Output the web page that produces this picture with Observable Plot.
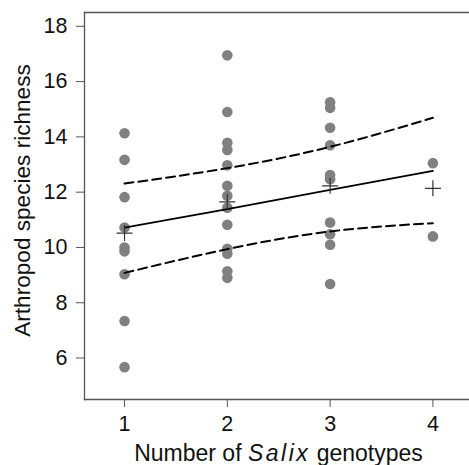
<!DOCTYPE html>
<html>
<head>
<meta charset="utf-8">
<script src="https://cdn.jsdelivr.net/npm/d3@7"></script>
<script src="https://cdn.jsdelivr.net/npm/@observablehq/plot@0.6"></script>
<style>
  html, body { margin: 0; padding: 0; background: #fff; overflow: hidden; }
  svg { display: block; }
</style>
</head>
<body>
<div id="chart"></div>
<script>
// Observed arthropod species richness by number of Salix genotypes
const genotypes = [1, 2, 3, 4];
const richnessG1 = [14.13, 13.17, 11.82, 10.72, 10.0, 9.86, 9.03, 7.34, 5.67];
const richnessG2 = [16.95, 14.9, 13.79, 13.53, 12.97, 12.23, 11.87, 11.44, 10.82, 9.95, 9.77, 9.14, 8.9];
const richnessG3 = [15.25, 15.05, 14.33, 13.7, 12.62, 12.47, 10.9, 10.48, 10.1, 8.68];
const richnessG4 = [13.05, 10.4];
// Group means (crosses)
const meanRichness = [10.52, 11.65, 12.23, 12.14];
// Fitted regression and confidence band
const fitRichness = [10.72, 11.39, 12.08, 12.77];
const upperCI = [12.31, 12.87, 13.64, 14.69];
const lowerCI = [9.08, 9.94, 10.58, 10.88];
// Axis ticks
const xTicks = [1, 2, 3, 4];
const yTicks = [6, 8, 10, 12, 14, 16, 18];

const groups = [richnessG1, richnessG2, richnessG3, richnessG4];
const points = groups.flatMap((vals, i) => vals.map(v => ({x: genotypes[i], y: v})));
const means = genotypes.map((g, i) => ({x: g, y: meanRichness[i]}));
const fit = genotypes.map((g, i) => ({x: g, y: fitRichness[i]}));
const upper = genotypes.map((g, i) => ({x: g, y: upperCI[i]}));
const lower = genotypes.map((g, i) => ({x: g, y: lowerCI[i]}));

const plusSymbol = {
  draw(context, size) {
    const r = Math.sqrt(size / Math.PI);
    context.moveTo(-r, 0); context.lineTo(r, 0);
    context.moveTo(0, -r); context.lineTo(0, r);
  }
};

const axisColor = "#555";
const font = "'Liberation Sans', Arial, Helvetica, sans-serif";

const plot = Plot.plot({
  width: 469,
  height: 465,
  marginLeft: 84,
  marginRight: 0,
  marginTop: 12,
  marginBottom: 66,
  style: {fontFamily: font, color: "#111", background: "#fff"},
  x: {domain: [0.6105, 4.356], ticks: xTicks, tickFormat: d => String(d)},
  y: {domain: [4.5, 18.5], ticks: yTicks, tickFormat: d => String(d)},
  marks: [
    Plot.frame({anchor: "left", stroke: axisColor, strokeWidth: 1.3}),
    Plot.frame({anchor: "top", stroke: axisColor, strokeWidth: 1.3}),
    Plot.frame({anchor: "bottom", stroke: axisColor, strokeWidth: 1.3}),
    Plot.axisX({ticks: xTicks, tickSize: 8, tickPadding: 8, fontSize: 21.5, stroke: axisColor, fill: "#111", label: null, tickFormat: d => String(d)}),
    Plot.axisY({ticks: yTicks, tickSize: 8, tickPadding: 9, fontSize: 21.5, stroke: axisColor, fill: "#111", label: null, tickFormat: d => String(d)}),
    Plot.dot(points, {x: "x", y: "y", r: 5.3, fill: "#808080", stroke: "none"}),
    Plot.line(upper, {x: "x", y: "y", curve: "natural", stroke: "#000", strokeWidth: 2, strokeDasharray: "9,5"}),
    Plot.line(lower, {x: "x", y: "y", curve: "natural", stroke: "#000", strokeWidth: 2, strokeDasharray: "9,5"}),
    Plot.line(fit, {x: "x", y: "y", stroke: "#000", strokeWidth: 1.8}),
    Plot.dot(means, {x: "x", y: "y", r: 8, symbol: plusSymbol, fill: "none", stroke: "#333", strokeWidth: 1.2}),
    Plot.text(["Arthropod species richness"], {frameAnchor: "left", text: d => d, rotate: -90, dx: -62, dy: -5.5, fontSize: 22.6, fill: "#111", lineAnchor: "middle", textAnchor: "middle"}),
    Plot.text(["Number of Salix genotypes"], {frameAnchor: "bottom", text: d => d, dx: 1.5, dy: 54, fontSize: 23, fill: "#111", lineAnchor: "middle", textAnchor: "middle"})
  ]
});

// Italicise "Salix" in the x-axis title
d3.select(plot).selectAll("text").filter(function() { return this.textContent === "Number of Salix genotypes"; })
  .each(function() {
    const t = d3.select(this);
    t.text(null);
    t.append("tspan").text("Number of ");
    t.append("tspan").attr("font-style", "italic").attr("letter-spacing", "2.5").text("Salix");
    t.append("tspan").text(" genotypes");
  });

document.getElementById("chart").appendChild(plot);
</script>
</body>
</html>
